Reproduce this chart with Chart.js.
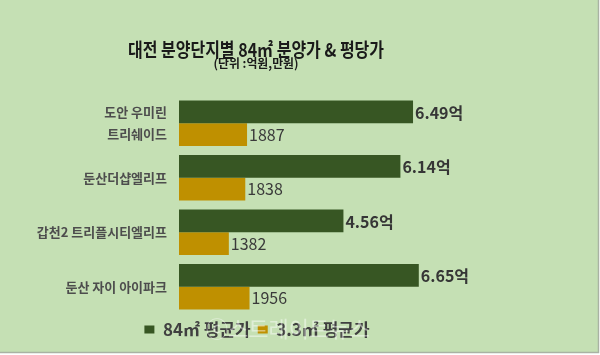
<!DOCTYPE html>
<html><head><meta charset="utf-8">
<script src="https://cdn.jsdelivr.net/npm/chart.js@4"></script>
<style>html,body{margin:0;padding:0;background:#fff;overflow:hidden}#wrap{width:600px;height:355px;position:relative}</style>
</head><body><div id="wrap"><canvas id="c" width="600" height="355"></canvas></div>
<script>
// ---- data ----
const titleText = '대전 분양단지별 84㎡ 분양가 & 평당가';
const subtitleText = '(단위 :억원,만원)';
const categories = [['도안 우미린', '트리쉐이드'], '둔산더샵엘리프', '갑천2 트리플시티엘리프', '둔산 자이 아이파크'];
const seriesNames = ['84㎡ 평균가', '3.3㎡ 평균가'];
const avgPrice84 = [6.49, 6.14, 4.56, 6.65];        // 억원
const pricePerPyeong = [1887, 1838, 1382, 1956];    // 만원
const priceSuffix = '억';
const watermarkText = 'ⓒ스트레이트뉴스';

// ---- style ----
const FONT = '"Noto Sans CJK KR", "Noto Sans", sans-serif';
const BG = '#c5e0b4';
const DARK = '#375623';
const GOLD = '#bf9000';
const X_MAX = 9.29;

const backgroundPlugin = {
  id: 'bg',
  beforeDraw(chart) {
    const ctx = chart.ctx;
    ctx.save();
    ctx.fillStyle = '#ffffff';
    ctx.fillRect(0, 0, chart.width, chart.height);
    ctx.fillStyle = BG;
    ctx.fillRect(0, 0, 598, 352);
    ctx.strokeStyle = '#a9b3a3';
    ctx.lineWidth = 1.5;
    ctx.beginPath();
    ctx.moveTo(598.5, 0); ctx.lineTo(598.5, 352.5); ctx.lineTo(0, 352.5);
    ctx.stroke();
    ctx.restore();
  }
};

const headerPlugin = {
  id: 'header',
  afterDraw(chart) {
    const ctx = chart.ctx;
    const drawFit = (text, font, cx, cy, targetW, color) => {
      ctx.save();
      ctx.font = font;
      const w = ctx.measureText(text).width;
      ctx.translate(cx, cy);
      ctx.scale(targetW / w, 1);
      ctx.fillStyle = color;
      ctx.textAlign = 'center';
      ctx.textBaseline = 'middle';
      ctx.fillText(text, 0, 0);
      ctx.restore();
    };
    drawFit(titleText, 'bold 19px ' + FONT, 256, 50, 256, '#1a1a1a');
    drawFit(subtitleText, 'bold 12px ' + FONT, 256, 63.5, 85, '#1a1a1a');
    // faint watermark
    ctx.save();
    ctx.font = '22px ' + FONT;
    ctx.fillStyle = 'rgba(255,255,255,0.45)';
    ctx.textAlign = 'left';
    ctx.textBaseline = 'middle';
    ctx.fillText(watermarkText, 206, 329);
    ctx.restore();
  }
};

const valueLabelPlugin = {
  id: 'valueLabels',
  afterDatasetsDraw(chart) {
    const ctx = chart.ctx;
    ctx.save();
    ctx.textAlign = 'left';
    ctx.textBaseline = 'middle';
    chart.data.datasets.forEach((ds, di) => {
      const meta = chart.getDatasetMeta(di);
      meta.data.forEach((bar, i) => {
        const v = ds.data[i];
        if (di === 0) {
          ctx.font = 'bold 16px ' + FONT;
          ctx.fillStyle = '#363636';
          ctx.fillText(v.toFixed(2) + priceSuffix, bar.x + 2, bar.y + 1);
        } else {
          ctx.font = '16px ' + FONT;
          ctx.fillStyle = '#3a3a3a';
          ctx.fillText(String(v), bar.x + 2, bar.y);
        }
      });
    });
    ctx.restore();
  }
};

new Chart(document.getElementById('c'), {
  type: 'bar',
  data: {
    labels: categories,
    datasets: [
      { label: seriesNames[0], data: avgPrice84, backgroundColor: DARK, borderWidth: 0, xAxisID: 'x',
        barPercentage: 1, categoryPercentage: 0.835 },
      { label: seriesNames[1], data: pricePerPyeong, backgroundColor: GOLD, borderWidth: 0, xAxisID: 'x2',
        barPercentage: 1, categoryPercentage: 0.835 }
    ]
  },
  options: {
    indexAxis: 'y',
    responsive: false,
    animation: false,
    devicePixelRatio: 1,
    layout: { padding: { top: 96, right: 86, bottom: 7, left: 0 } },
    scales: {
      x: { display: false, min: 0, max: X_MAX },
      x2: { display: false, min: 0, max: X_MAX * 1000 },
      y: {
        grid: { display: false, drawTicks: false },
        border: { display: false },
        ticks: {
          padding: 12,
          color: '#4d4d4d',
          font: { family: FONT, size: 13, weight: 'bold', lineHeight: 1.7 }
        },
        afterFit(scale) { scale.width = 179; }
      }
    },
    plugins: {
      title: { display: false },
      tooltip: { enabled: false },
      legend: {
        position: 'bottom',
        labels: {
          boxWidth: 10, boxHeight: 8, padding: 7,
          color: '#404040',
          font: { family: FONT, size: 17, weight: 'bold' }
        }
      }
    }
  },
  plugins: [backgroundPlugin, headerPlugin, valueLabelPlugin]
});
</script>
</body></html>
